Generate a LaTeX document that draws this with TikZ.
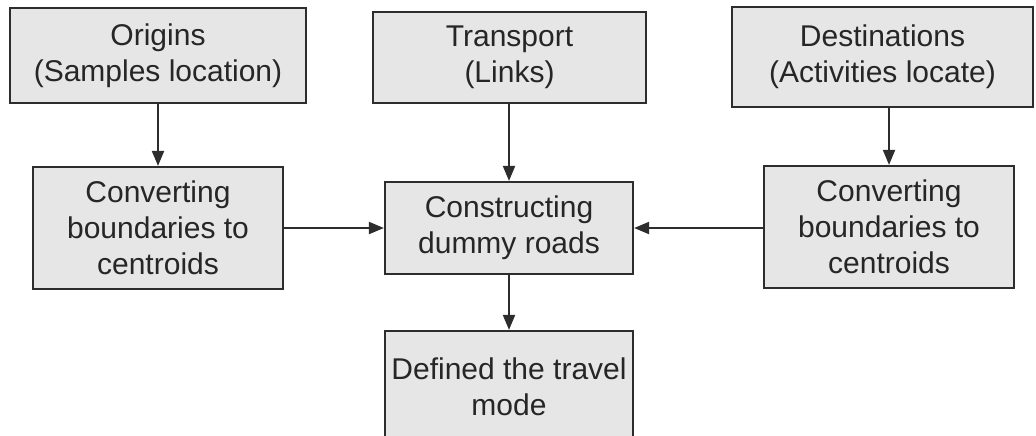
\documentclass[tikz,border=0pt]{standalone}
\usepackage{fontspec}
\setmainfont{Liberation Sans}
\usepackage{xcolor}
\usepackage{tikz}
\usetikzlibrary{positioning,calc,arrows.meta}

\definecolor{boxfill}{RGB}{230,230,230}
\definecolor{boxline}{RGB}{45,45,45}

\begin{document}
\begin{tikzpicture}[x=0.5pt,y=-0.5pt,
    block/.style={draw=boxline, fill=boxfill, line width=1.1pt, align=center,
        inner sep=0pt, font=\fontsize{15}{18}\selectfont, text=black!85},
    arr/.style={draw=boxline, line width=1pt, -{Triangle[length=7.5pt,width=6pt]}}]
    \useasboundingbox (0,0) rectangle (1036,435);

    % Top row
    \node[block, minimum width=148pt, minimum height=47.5pt] (orig) at (158,55.5) {Origins\\(Samples location)};
    \node[block, minimum width=136.5pt, minimum height=45.5pt] (trans) at (509.5,57.5) {Transport\\(Links)};
    \node[block, minimum width=150.5pt, minimum height=50pt] (dest) at (882.5,57) {Destinations\\(Activities locate)};

    % Middle row
    \node[block, minimum width=125pt, minimum height=61pt] (convL) at (158,228) {Converting\\boundaries to\\centroids};
    \node[block, minimum width=124pt, minimum height=46pt] (cons) at (509,228) {Constructing\\dummy roads};
    \node[block, minimum width=125pt, minimum height=61pt] (convR) at (889,227) {Converting\\boundaries to\\centroids};

    % Bottom
    \node[block, minimum width=124pt, minimum height=56pt] (defd) at (509,387) {Defined the travel\\mode};

    % Arrows
    \draw[arr] (orig) -- (convL);
    \draw[arr] (trans.south -| cons.north) -- (cons.north);
    \draw[arr] (dest.south -| convR.north) -- (convR.north);
    \draw[arr] (convL.east |- cons.west) -- (cons.west);
    \draw[arr] (convR.west |- cons.east) -- (cons.east);
    \draw[arr] (cons) -- (defd);
\end{tikzpicture}
\end{document}
